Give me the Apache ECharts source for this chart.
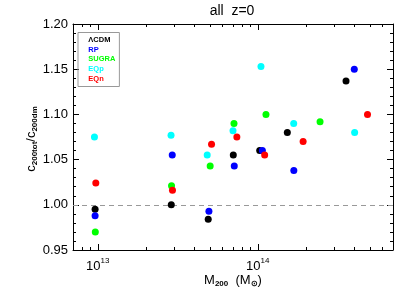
<!DOCTYPE html>
<html>
<head>
<meta charset="utf-8">
<script src="https://cdn.jsdelivr.net/npm/echarts@6/dist/echarts.min.js"></script>
<style>html,body{margin:0;padding:0;background:#fff}#c{width:415px;height:297px}</style>
</head>
<body>
<div id="c"></div>
<script>
// ---- data ----
const seriesNames = ['ΛCDM', 'RP', 'SUGRA', 'EQp', 'EQn'];
const seriesColors = ['#000000', '#0000ff', '#00ff00', '#00ffff', '#ff0000'];
const lcdmMass  = [9.62e12, 2.88e13, 4.90e13, 7.03e13, 1.028e14, 1.53e14, 3.56e14];
const lcdmRatio = [0.995, 1.000, 0.984, 1.055, 1.060, 1.080, 1.137];
const rpMass    = [9.62e12, 2.92e13, 4.95e13, 7.13e13, 1.068e14, 1.68e14, 4.01e14];
const rpRatio   = [0.988, 1.055, 0.993, 1.043, 1.060, 1.038, 1.150];
const sugraMass = [9.65e12, 2.89e13, 5.04e13, 7.10e13, 1.125e14, 2.45e14];
const sugraRatio= [0.970, 1.021, 1.043, 1.090, 1.100, 1.092];
const eqpMass   = [9.53e12, 2.87e13, 4.83e13, 7.00e13, 1.047e14, 1.677e14, 4.03e14];
const eqpRatio  = [1.075, 1.077, 1.055, 1.082, 1.153, 1.090, 1.080];
const eqnMass   = [9.72e12, 2.93e13, 5.14e13, 7.40e13, 1.104e14, 1.92e14, 4.85e14];
const eqnRatio  = [1.024, 1.016, 1.067, 1.075, 1.055, 1.070, 1.100];
const xMin = 7e12, xMax = 7e14;
const yMin = 0.95, yMax = 1.20, yStep = 0.05;
const xMinorTicks = [8e12, 9e12, 2e13, 3e13, 4e13, 5e13, 6e13, 7e13, 8e13, 9e13, 2e14, 3e14, 4e14, 5e14, 6e14];
const refLine = 1.0;

const masses = [lcdmMass, rpMass, sugraMass, eqpMass, eqnMass];
const ratios = [lcdmRatio, rpRatio, sugraRatio, eqpRatio, eqnRatio];

const FONT = "'Liberation Sans', Arial, sans-serif";
const chart = echarts.init(document.getElementById('c'), null, {renderer: 'canvas'});

function xAxisCfg(pos) {
  return {
    type: 'log', logBase: 10, min: xMin, max: xMax, position: pos, splitNumber: 2,
    axisLine: {show: true, onZero: false, lineStyle: {color: '#000', width: 1}},
    axisTick: {show: true, inside: true, length: 6, lineStyle: {color: '#000', width: 1}},
    minorTick: {show: false},
    splitLine: {show: false},
    axisLabel: pos === 'bottom' ? {
      show: true, margin: 7,
      formatter: function (v) {
        const l = Math.log10(v);
        if (Math.abs(l - Math.round(l)) < 1e-6) return '{b|10}{s|' + Math.round(l) + '}';
        return '';
      },
      rich: {
        b: {fontFamily: FONT, fontSize: 13, color: '#000', lineHeight: 16, verticalAlign: 'bottom'},
        s: {fontFamily: FONT, fontSize: 8, color: '#000', lineHeight: 8, verticalAlign: 'top'}
      }
    } : {show: false}
  };
}
function yAxisCfg(pos) {
  return {
    type: 'value', min: yMin, max: yMax, interval: yStep, position: pos,
    axisLine: {show: true, onZero: false, lineStyle: {color: '#000', width: 1}},
    axisTick: {show: true, inside: true, length: 6, lineStyle: {color: '#000', width: 1}},
    minorTick: {show: true, splitNumber: 5, length: 3, lineStyle: {color: '#000', width: 1}},
    splitLine: {show: false},
    axisLabel: pos === 'left' ? {
      show: true, margin: 5, fontFamily: FONT, fontSize: 13, color: '#000',
      formatter: v => v.toFixed(2)
    } : {show: false}
  };
}

const nameRich = {
  m: {fontFamily: FONT, fontSize: 13, color: '#000', lineHeight: 14, verticalAlign: 'top'},
  s: {fontFamily: FONT, fontSize: 8, fontWeight: 'bold', color: '#000', lineHeight: 8, verticalAlign: 'bottom'}
};

const xBottom = xAxisCfg('bottom');
xBottom.name = '{m|M}{s|200}{m|  (M}{s|⊙}{m|)}';
xBottom.nameLocation = 'middle';
xBottom.nameGap = 23.5;
xBottom.nameMoveOverlap = false;
xBottom.nameTextStyle = {rich: nameRich};

const yLeft = yAxisCfg('left');
yLeft.name = '{m|c}{s|200tot}{m|/c}{s|200dm}';
yLeft.nameLocation = 'middle';
yLeft.nameRotate = 90;
yLeft.nameGap = 34;
yLeft.nameMoveOverlap = false;
yLeft.nameTextStyle = {rich: nameRich, padding: [0, 4, 0, 0]};

const scatterSeries = seriesNames.map((name, i) => ({
  type: 'scatter', name: name, xAxisIndex: 0, yAxisIndex: 0,
  symbol: 'circle', symbolSize: 7,
  itemStyle: {color: seriesColors[i], opacity: 1},
  data: masses[i].map((m, j) => [m, ratios[i][j]]),
  z: 3
}));
scatterSeries[0].markLine = {
  silent: true, symbol: ['none', 'none'], label: {show: false},
  lineStyle: {color: '#999', type: [5, 4], width: 1},
  data: [{yAxis: refLine}],
  z: 1
};

const minorTickSeries = {
  type: 'custom', name: 'minorTicks', xAxisIndex: 0, yAxisIndex: 0, silent: true,
  data: xMinorTicks.map(v => [v, yMin]),
  renderItem: function (params, api) {
    const v = api.value(0);
    const b = api.coord([v, yMin]);
    const t = api.coord([v, yMax]);
    const x = Math.round(b[0]) + 0.5;
    return {
      type: 'group',
      children: [
        {type: 'line', shape: {x1: x, y1: b[1], x2: x, y2: b[1] - 3}, style: {stroke: '#000', lineWidth: 1}},
        {type: 'line', shape: {x1: x, y1: t[1], x2: x, y2: t[1] + 3}, style: {stroke: '#000', lineWidth: 1}}
      ]
    };
  },
  z: 2
};

chart.setOption({
  animation: false,
  backgroundColor: '#fff',
  title: {
    text: 'all  z=0', left: 232, top: 4, textAlign: 'center', padding: 0,
    textStyle: {fontFamily: FONT, fontSize: 14, fontWeight: 'normal', color: '#000'}
  },
  legend: {
    left: 78, top: 32.5, orient: 'vertical',
    itemWidth: 0, itemHeight: 8, itemGap: 1.8,
    padding: [3.3, 4, 3.5, 5.3],
    borderColor: '#999', borderWidth: 1,
    icon: 'rect',
    itemStyle: {color: 'rgba(0,0,0,0)', borderWidth: 0},
    selectedMode: false,
    textStyle: {fontFamily: FONT, fontSize: 7.5, fontWeight: 'bold'},
    data: seriesNames.map((n, i) => ({name: n, textStyle: {color: seriesColors[i]}}))
  },
  grid: {left: 73, right: 22, top: 24, height: 226, containLabel: false},
  xAxis: [xBottom, xAxisCfg('top')],
  yAxis: [yLeft, yAxisCfg('right')],
  series: scatterSeries.concat([minorTickSeries])
});
</script>
</body>
</html>
